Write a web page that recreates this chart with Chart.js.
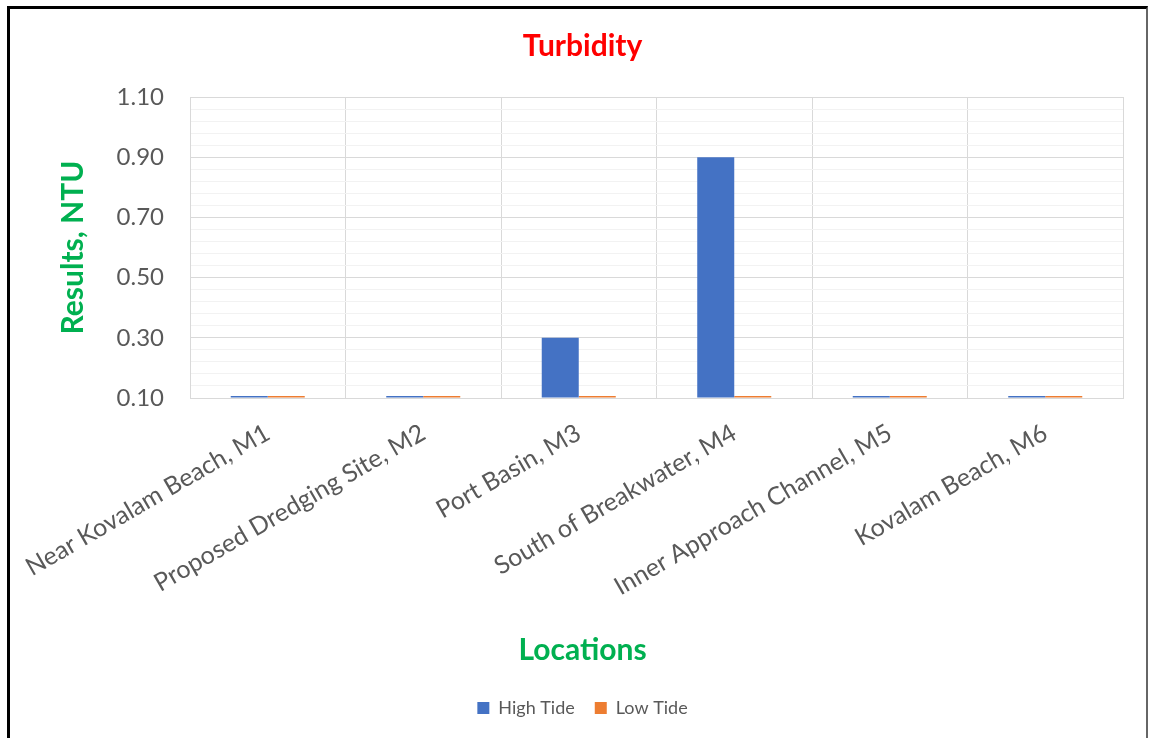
<!DOCTYPE html>
<html>
<head>
<meta charset="utf-8">
<script src="https://cdn.jsdelivr.net/npm/chart.js@4"></script>
<style>
  html, body { margin: 0; padding: 0; background: #fff; }
  #wrap { position: relative; width: 1155px; height: 738px; overflow: hidden; }
  #frame { position: absolute; left: 7px; top: 6px; width: 1136px; height: 780px;
           border-left: 3px solid #000; border-top: 3px solid #000; border-right: 2px solid #666;
           pointer-events: none; }
</style>
</head>
<body>
<div id="wrap">
  <canvas id="c" width="1155" height="738"></canvas>
  <div id="frame"></div>
</div>
<script>
const categories = [
  "Near Kovalam Beach, M1",
  "Proposed Dredging Site, M2",
  "Port Basin, M3",
  "South of Breakwater, M4",
  "Inner Approach Channel, M5",
  "Kovalam Beach, M6"
];
const highTide = [0.10, 0.10, 0.30, 0.90, 0.10, 0.10];
const lowTide  = [0.10, 0.10, 0.10, 0.10, 0.10, 0.10];
const yMin = 0.10, yMax = 1.10, minorStep = 0.04, majorEvery = 5;

const FONT = "Lato";
const tickColor = "#595959";
const green = "#00B050";

new Chart(document.getElementById("c"), {
  type: "bar",
  data: {
    labels: categories,
    datasets: [
      { label: "High Tide", data: highTide, backgroundColor: "#4472C4", base: yMin, minBarLength: 2 },
      { label: "Low Tide",  data: lowTide,  backgroundColor: "#ED7D31", base: yMin, minBarLength: 2 }
    ]
  },
  options: {
    responsive: false,
    animation: false,
    devicePixelRatio: 1,
    categoryPercentage: 0.476,
    barPercentage: 1.0,
    layout: { padding: { left: 42, right: 32, top: 0, bottom: 11 } },
    plugins: {
      title: {
        display: true, text: "Turbidity", color: "#FF0000",
        font: { family: FONT, size: 30, weight: "bold" },
        padding: { top: 28, bottom: 33 }
      },
      subtitle: {
        display: true, text: "Locations", color: green, position: "bottom", weight: 1500,
        font: { family: FONT, size: 30, weight: "bold" },
        padding: { top: 0, bottom: 11 }
      },
      legend: {
        position: "bottom", weight: 2500,
        labels: {
          color: tickColor, boxWidth: 12, boxHeight: 12, padding: 20,
          font: { family: FONT, size: 18 }
        }
      },
      tooltip: { enabled: false }
    },
    scales: {
      x: {
        offset: true,
        grid: { color: "#d9d9d9", offset: true, drawTicks: false },
        border: { display: true, color: "#d9d9d9" },
        ticks: {
          color: tickColor, font: { family: FONT, size: 25 },
          minRotation: 30, maxRotation: 30, autoSkip: false, padding: 20
        },
        afterFit: (s) => { s.height = 234; s.paddingLeft = 0; s.paddingRight = 0; }
      },
      y: {
        min: yMin, max: yMax,
        grid: {
          drawTicks: false,
          color: (ctx) => (ctx.index % majorEvery === 0 ? "#d9d9d9" : "#f2f2f2")
        },
        border: { display: true, color: "#d9d9d9" },
        ticks: {
          stepSize: minorStep, autoSkip: false, padding: 26,
          color: tickColor, font: { family: FONT, size: 24 },
          callback: (v, i) => (i % majorEvery === 0 ? Number(v).toFixed(2) : "")
        },
        title: {
          display: true, text: "Results, NTU", color: green,
          font: { family: FONT, size: 30, weight: "bold" },
          padding: { top: 13, bottom: 0 }
        },
        afterFit: (s) => { s.width = 148; s.paddingTop = 0; s.paddingBottom = 0; }
      }
    }
  }
});
</script>
</body>
</html>
